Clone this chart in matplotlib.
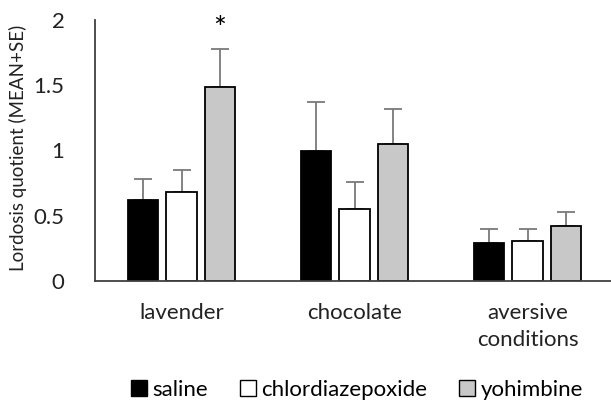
import numpy as np
from matplotlib import pyplot as plt
from matplotlib.patches import Patch

plt.rcParams['font.family'] = ['Lato', 'DejaVu Sans']

categories = ['lavender', 'chocolate', 'aversive\nconditions']
groups = ['saline', 'chlordiazepoxide', 'yohimbine']
means = {
    'saline': [0.62, 1.00, 0.29],
    'chlordiazepoxide': [0.68, 0.55, 0.31],
    'yohimbine': [1.49, 1.05, 0.42],
}
tops = {  # mean + SE
    'saline': [0.78, 1.37, 0.40],
    'chlordiazepoxide': [0.85, 0.76, 0.40],
    'yohimbine': [1.78, 1.32, 0.53],
}
colors = {'saline': '#000000', 'chlordiazepoxide': '#ffffff', 'yohimbine': '#c8c8c8'}

W, H = 611, 401
fig = plt.figure(figsize=(W / 100, H / 100), dpi=100)
# axes in pixel coordinates: left 95, bottom line at y=281, top at y=20
ax = fig.add_axes([95 / W, (H - 281) / H, (611 - 95) / W, (281 - 20) / H])

x = np.arange(len(categories))
width = 0.175
step = 0.223
for i, g in enumerate(groups):
    xs = x + (i - 1) * step
    m = np.array(means[g])
    se = np.array(tops[g]) - m
    ax.errorbar(xs, m, yerr=[np.zeros_like(se), se], fmt='none', ecolor='#7a7a7a',
                elinewidth=1.3, capsize=6.5, capthick=1.3, zorder=1)
    ax.bar(xs, m, width, color=colors[g], edgecolor='black', linewidth=1.3, zorder=2)

ax.text(x[0] + step, tops['yohimbine'][0] + 0.04, '*', ha='center', va='bottom',
        fontsize=22)

ax.set_xlim(-0.5, (611 - 95) / 173 - 0.5)
ax.set_ylim(0, 2)
ax.set_yticks([0, 0.5, 1, 1.5, 2])
ax.set_yticklabels(['0', '0.5', '1', '1.5', '2'])
ax.set_xticks(x)
ax.set_xticklabels(categories, linespacing=1.45)
ax.tick_params(axis='both', length=0, labelsize=16, colors='#222222')
ax.tick_params(axis='y', pad=22)
ax.tick_params(axis='x', pad=16)
for s in ['top', 'right']:
    ax.spines[s].set_visible(False)
for s in ['left', 'bottom']:
    ax.spines[s].set_color('#404040')
    ax.spines[s].set_linewidth(1.3)
ax.set_ylabel('Lordosis quotient (MEAN+SE)', fontsize=13.5, color='#222222')
ax.yaxis.set_label_coords(-68 / (611 - 95), 0.51)

handles = [Patch(facecolor=colors[g], edgecolor='black', linewidth=1.0) for g in groups]
fig.legend(handles, groups, loc='center', bbox_to_anchor=(357 / W, 1 - 390 / H),
           ncol=3, frameon=False, fontsize=16, handlelength=0.7, handleheight=0.7,
           handletextpad=0.25, columnspacing=1.45)

plt.savefig('out.png', dpi=100)
